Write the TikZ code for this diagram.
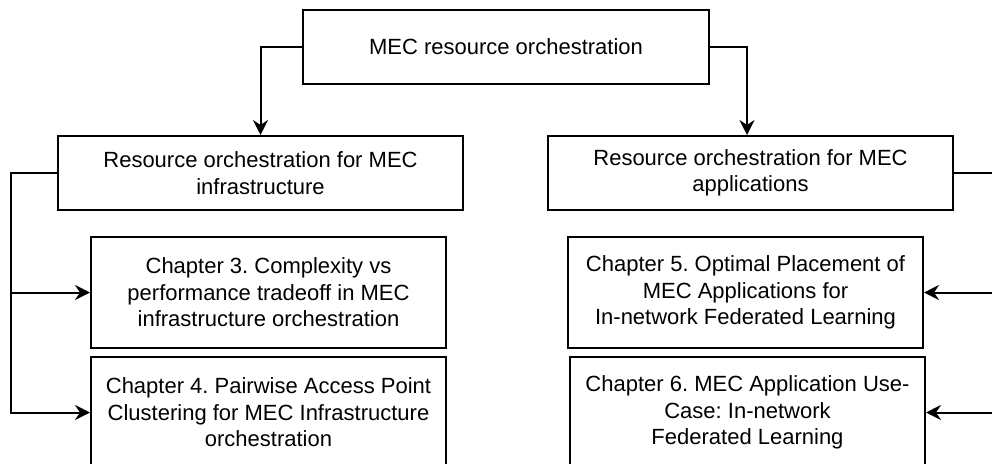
\documentclass[tikz,border=0pt]{standalone}
\usepackage{fontspec}
\setmainfont{Liberation Sans}
\frenchspacing
\usetikzlibrary{arrows.meta}
\begin{document}
\begin{tikzpicture}[x=1pt,y=-1pt]
\tikzset{
  box/.style={draw, line width=2pt, rectangle, align=center, inner sep=0pt,
    font=\fontsize{22}{26.4}\selectfont},
  headbox/.style={box, minimum width=405pt, minimum height=74pt},
  chapbox/.style={box, minimum width=355pt, minimum height=111pt},
  tip/.tip={Stealth[length=15pt,width=15pt,inset=5pt]},
  link/.style={line width=2pt, -tip}}
\useasboundingbox (0,0) rectangle (992,463);
\clip (0,0) rectangle (992,463);

% overview box and the two branches
\node[headbox, minimum width=406pt] (top) at (506,47) {MEC resource orchestration};
\node[headbox] (infra) at (260.5,173) {Resource orchestration for MEC\\infrastructure};
\node[headbox] (apps) at (750.5,173) {Resource orchestration for MEC\\applications};

% chapters
\node[chapbox] (ch3) at (268.5,292.5) {Chapter 3. Complexity vs\\performance tradeoff in MEC\\infrastructure orchestration};
\node[chapbox] (ch4) at (268.5,412.5) {Chapter 4. Pairwise Access Point\\Clustering for MEC Infrastructure\\orchestration};
\node[chapbox] (ch5) at (745.5,292.5) {Chapter 5. Optimal Placement of\\MEC Applications for\\In-network Federated Learning};
\node[chapbox] (ch6) at (747.5,412.5) {Chapter 6. MEC Application Use-\\Case: In-network\\Federated Learning};

% side rails
\coordinate (lrail) at (11,173);
\coordinate (rrail) at (1003,173);

% connectors
\draw[link] (top.west) -| (infra.north);
\draw[link] (top.east) -| ([xshift=-3.5pt]apps.north);
\draw[link] (infra.west) -- (lrail) |- (ch3.west);
\draw[link] (infra.west) -- (lrail) |- (ch4.west);
\draw[link] (apps.east) -- (rrail) |- (ch5.east);
\draw[link] (apps.east) -- (rrail) |- (ch6.east);
\end{tikzpicture}
\end{document}
